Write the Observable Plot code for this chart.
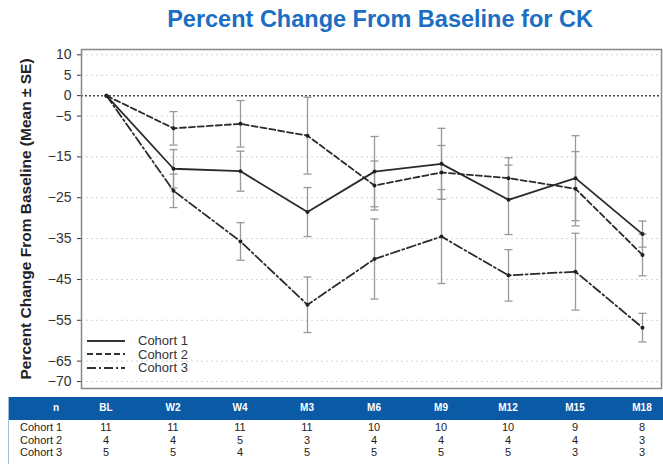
<!DOCTYPE html>
<html><head><meta charset="utf-8">
<script src="https://cdn.jsdelivr.net/npm/d3@7"></script>
<script src="https://cdn.jsdelivr.net/npm/@observablehq/plot@0.6"></script>
<style>
body{margin:0;background:#fff;font-family:Arial,"Liberation Sans",sans-serif;}
#wrap{position:relative;width:663px;height:464px;overflow:hidden;background:#fff;}
#title{position:absolute;left:0;top:6px;width:663px;padding-left:97px;box-sizing:border-box;text-align:center;font-size:23.5px;font-weight:bold;color:#1b6ec2;}
#chart{position:absolute;left:0;top:40px;}
#legend{position:absolute;left:86px;top:334px;font-size:13px;color:#333;line-height:13.5px;}
#legend .row{display:flex;align-items:center;height:13.5px;}
#legend svg{margin-right:12px;}
#table{position:absolute;left:0;top:397px;width:663px;height:67px;font-size:11px;color:#222;}
.cell{position:absolute;transform:translateX(-50%);white-space:nowrap;}
</style></head><body>
<div id="wrap">
 <div id="title">Percent Change From Baseline for CK</div>
 <div id="chart"></div>
 <div id="legend"></div>
 <div id="table"></div>
</div>
<script>
const visits = ["BL","W2","W4","M3","M6","M9","M12","M15","M18"];
const cohorts = ["Cohort 1","Cohort 2","Cohort 3"];
const c1Mean = [0, -17.9, -18.5, -28.5, -18.6, -16.7, -25.5, -20.2, -33.9];
const c1SE   = [0, 4.7, 4.9, 6.0, 8.6, 8.7, 8.5, 10.4, 3.2];
const c2Mean = [0, -8.0, -6.9, -9.8, -22.0, -18.8, -20.2, -22.8, -39.0];
const c2SE   = [0, 4.1, 5.7, 9.4, 6.0, 6.6, 5.0, 9.1, 5.1];
const c3Mean = [0, -23.3, -35.7, -51.2, -40.0, -34.5, -44.0, -43.1, -56.8];
const c3SE   = [0, 4.1, 4.6, 6.8, 9.8, 11.5, 6.3, 9.4, 3.5];
const n1 = [11, 11, 11, 11, 10, 10, 10, 9, 8];
const n2 = [4, 4, 5, 3, 4, 4, 4, 4, 3];
const n3 = [5, 5, 4, 5, 5, 5, 5, 3, 3];
const yTicks = [10, 5, 0, -5, -15, -25, -35, -45, -55, -65, -70];
const dashes = [null, "6,3", "9,3,2,3"];

const means = [c1Mean, c2Mean, c3Mean];
const ses = [c1SE, c2SE, c3SE];
const ns = [n1, n2, n3];

const rows = cohorts.flatMap((c, k) => visits.map((v, i) => ({cohort: c, visit: v, mean: means[k][i], se: ses[k][i]})));
const bars = rows.filter(d => d.se > 0);
const caps = bars.flatMap(d => [{visit: d.visit, y: d.mean - d.se}, {visit: d.visit, y: d.mean + d.se}]);

const capSymbol = {draw(ctx, size) { const w = Math.sqrt(size / Math.PI); ctx.moveTo(-w, 0); ctx.lineTo(w, 0); }};

const lineMarks = cohorts.map((c, k) => Plot.line(rows.filter(d => d.cohort === c), {
  x: "visit", y: "mean", stroke: "#2a2a2a", strokeWidth: 1.8,
  ...(dashes[k] ? {strokeDasharray: dashes[k]} : {})
}));

const plot = Plot.plot({
  width: 663, height: 352,
  marginLeft: 81, marginRight: 2, marginTop: 9, marginBottom: 4,
  style: {fontFamily: "Arial, 'Liberation Sans', sans-serif", fontSize: "14px", color: "#333", background: "#fff", overflow: "visible"},
  x: {type: "point", domain: visits, padding: 0.304, align: 0.56, axis: null},
  y: {domain: [-71.7, 11.3], ticks: yTicks, tickSize: 4, tickPadding: 6,
      label: "Percent Change From Baseline (Mean ± SE)", labelAnchor: "center", labelOffset: 62, labelArrow: false},
  marks: [
    Plot.ruleY(yTicks.filter(t => t !== 0), {stroke: "#d4d4d4", strokeDasharray: "2,3"}),
    Plot.ruleY([0], {stroke: "#444", strokeDasharray: "2,2", strokeWidth: 1.5}),
    Plot.ruleX(bars, {x: "visit", y1: d => d.mean - d.se, y2: d => d.mean + d.se, stroke: "#999", strokeWidth: 1.3}),
    Plot.dot(caps, {x: "visit", y: "y", symbol: capSymbol, r: 4, stroke: "#999", strokeWidth: 1.3, fill: "none"}),
    ...lineMarks,
    Plot.dot(rows, {x: "visit", y: "mean", r: 2, fill: "#222"}),
    Plot.frame({stroke: "#888", strokeWidth: 1.5})
  ]
});
document.getElementById("chart").appendChild(plot);
plot.querySelectorAll("text").forEach(t => {
  if (t.textContent.includes("Percent Change")) { t.style.fontWeight = "bold"; t.style.fill = "#222"; t.style.fontSize = "15.5px"; }
});

// legend
const leg = document.getElementById("legend");
cohorts.forEach((c, k) => {
  const r = document.createElement("div"); r.className = "row";
  r.innerHTML = `<svg width="40" height="6"><line x1="1" x2="39" y1="3" y2="3" stroke="#333" stroke-width="2" ${dashes[k] ? `stroke-dasharray="${dashes[k]}"` : ""}/></svg><span>${c}</span>`;
  leg.appendChild(r);
});

// n table
const xs = plot.scale("x");
const tbl = document.getElementById("table");
let html = `<div style="position:absolute;left:8px;top:0;width:655px;height:23px;background:#0b5aa6;"></div>`;
html += `<div style="position:absolute;left:8px;top:0;width:1px;height:67px;background:#9cbce0;"></div>`;
html += `<div class="cell" style="left:56px;top:5px;color:#fff;font-weight:bold;font-size:10px;">n</div>`;
visits.forEach(v => {
  html += `<div class="cell" style="left:${xs.apply(v)}px;top:5px;color:#fff;font-weight:bold;font-size:10px;">${v}</div>`;
});
cohorts.forEach((c, k) => {
  const top = 24 + k * 12.5;
  html += `<div style="position:absolute;left:20px;top:${top}px;">${c}</div>`;
  visits.forEach((v, i) => {
    html += `<div class="cell" style="left:${xs.apply(v)}px;top:${top}px;">${ns[k][i]}</div>`;
  });
});
tbl.innerHTML = html;
</script>
</body></html>
